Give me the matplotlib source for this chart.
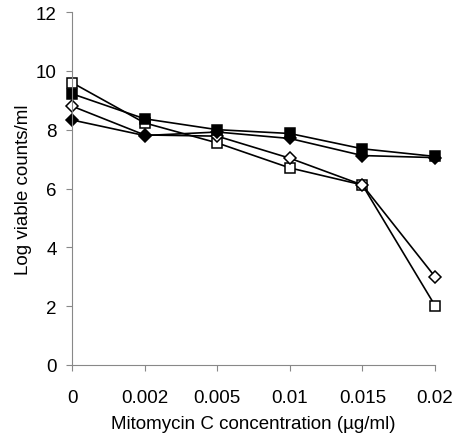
import numpy as np
import matplotlib.pyplot as plt

plt.rcParams['font.family'] = ['Liberation Sans', 'DejaVu Sans']

concentraciones = ['0', '0.002', '0.005', '0.01', '0.015', '0.02']
cuadrado_abierto = [9.6, 8.23, 7.55, 6.7, 6.12, 2.02]
cuadrado_lleno = [9.22, 8.37, 8.0, 7.87, 7.35, 7.09]
rombo_abierto = [8.8, 7.82, 7.78, 7.03, 6.12, 3.0]
rombo_lleno = [8.33, 7.8, 7.92, 7.7, 7.12, 7.05]

x = np.arange(len(concentraciones))

fig = plt.figure(figsize=(4.53, 4.39), dpi=100)
ax = fig.add_axes([72 / 453, 1 - 366 / 439, (435 - 72) / 453, (366 - 13) / 439])

estilo = dict(color='black', linewidth=1.2, markeredgecolor='black', markeredgewidth=1.1)
ax.plot(x, cuadrado_abierto, marker='s', markersize=7, markerfacecolor='white', **estilo)
ax.plot(x, rombo_abierto, marker='D', markersize=6.5, markerfacecolor='white', **estilo)
ax.plot(x, rombo_lleno, marker='D', markersize=6.5, markerfacecolor='black', **estilo)
ax.plot(x, cuadrado_lleno, marker='s', markersize=7, markerfacecolor='black', **estilo)

ax.set_xlim(0, 5)
ax.set_ylim(0, 12)
ax.set_yticks(range(0, 13, 2))
ax.set_xticks(x)
ax.set_xticklabels(concentraciones)

for lado in ['top', 'right']:
    ax.spines[lado].set_visible(False)
for lado in ['left', 'bottom']:
    ax.spines[lado].set_color('#888888')
    ax.spines[lado].set_linewidth(0.8)
ax.spines['bottom'].set_zorder(0)

ax.tick_params(direction='out', length=4, color='#888888', width=0.8, labelsize=13.5)
ax.tick_params(axis='x', pad=13)
ax.tick_params(axis='y', pad=7)

ax.set_xlabel('Mitomycin C concentration (\u00b5g/ml)', fontsize=13.5, labelpad=7)
ax.set_ylabel('Log viable counts/ml', fontsize=13.5, labelpad=3)

for linea in ax.lines:
    linea.set_clip_on(False)

fig.savefig('out.png', dpi=100)
